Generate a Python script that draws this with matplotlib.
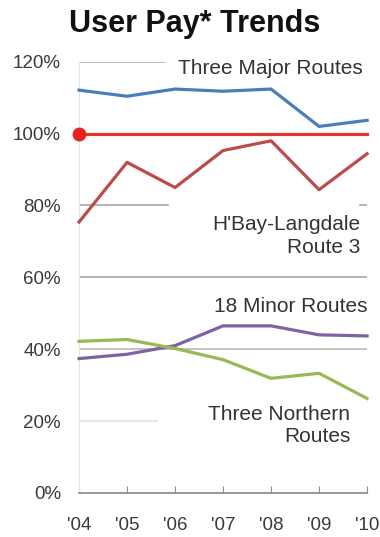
import matplotlib.pyplot as plt

plt.rcParams['font.family'] = ['Liberation Sans', 'DejaVu Sans']

years = ["'04", "'05", "'06", "'07", "'08", "'09", "'10"]
major = [112.1, 110.4, 112.4, 111.8, 112.4, 102.0, 103.7]
baseline = [100, 100, 100, 100, 100, 100, 100]
hbay = [75.4, 92.0, 85.0, 95.3, 98.0, 84.4, 94.4]
minor = [37.4, 38.6, 41.0, 46.5, 46.5, 44.0, 43.7]
northern = [42.2, 42.7, 40.2, 37.1, 31.9, 33.3, 26.3]

fig = plt.figure(figsize=(3.8, 5.37), dpi=100)
ax = fig.add_axes([0.208, 0.082, 0.758, 0.803])
x = range(len(years))

ax.set_ylim(0, 120)
ax.set_xlim(0, len(years) - 1)
ax.set_yticks([0, 20, 40, 60, 80, 100, 120])
ax.set_yticklabels(['0%', '20%', '40%', '60%', '80%', '100%', '120%'])
ax.set_xticks(list(x))
ax.set_xticklabels(years)

# gridlines, partly hidden behind the labels as in the original
ax.axhline(120, xmax=0.30, color='#b0b0b0', lw=1.2, zorder=0)
ax.axhline(80, xmax=0.31, color='#a8a8a8', lw=1.2, zorder=0)
ax.axhline(80, xmin=0.975, color='#a8a8a8', lw=1.2, zorder=0)
ax.axhline(60, color='#a8a8a8', lw=1.2, zorder=0)
ax.axhline(40, color='#b8b8b8', lw=1.2, zorder=0)
ax.axhline(20, xmax=0.27, color='#e2e2e2', lw=1.2, zorder=0)

for s in ['top', 'right']:
    ax.spines[s].set_visible(False)
ax.spines['left'].set_color('#e4e4e4')
ax.spines['bottom'].set_color('#909090')
ax.spines['bottom'].set_linewidth(1.3)
ax.tick_params(axis='y', length=0, pad=13, labelsize=13.5, labelcolor='#3a3a3a')
ax.tick_params(axis='x', direction='in', length=5, color='#909090',
               pad=17, labelsize=13.5, labelcolor='#3a3a3a')

ax.plot(x, major, color='#4a7ebb', lw=2.3, zorder=3, clip_on=False)
ax.plot(x, baseline, color='#e0392b', lw=2.3, zorder=3, clip_on=False)
ax.plot([0], [baseline[0]], 'o', color='#e8211c', ms=9, zorder=4, clip_on=False)
ax.plot(x, hbay, color='#be4b48', lw=2.3, zorder=3, clip_on=False)
ax.plot(x, minor, color='#7e62a1', lw=2.3, zorder=3, clip_on=False)
ax.plot(x, northern, color='#98b954', lw=2.3, zorder=3, clip_on=False)

tc = '#333333'
ax.text(5.92, 118, 'Three Major Routes', ha='right', va='center', fontsize=15,
        color=tc, zorder=2)
ax.text(5.85, 71.5, "H'Bay-Langdale\nRoute 3", ha='right', va='center',
        multialignment='right', fontsize=15, color=tc, zorder=2,
        linespacing=1.25)
ax.text(6.0, 52, '18 Minor Routes', ha='right', va='center', fontsize=15,
        color=tc, zorder=2)
ax.text(5.65, 18.8, 'Three Northern\nRoutes', ha='right', va='center',
        multialignment='right', fontsize=15, color=tc, zorder=2,
        linespacing=1.25)

fig.text(0.513, 0.955, 'User Pay* Trends', ha='center', va='center',
         fontsize=22, fontweight='bold', color='#111111')

fig.savefig('out.png', dpi=100)
